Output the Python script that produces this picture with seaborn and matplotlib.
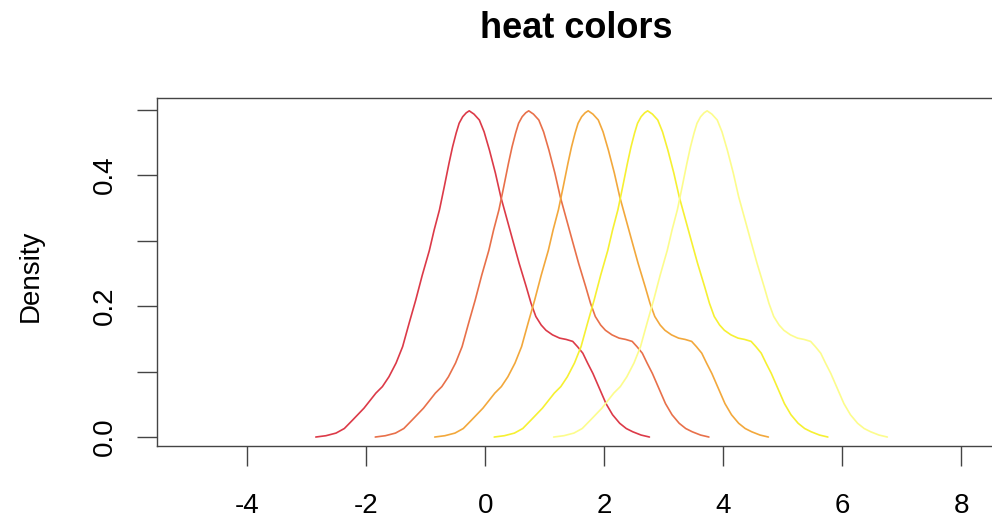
import matplotlib
matplotlib.use("Agg")
import matplotlib.pyplot as plt
import seaborn as sns
import pandas as pd

# Base density curve; the other curves are the same shape shifted by 1
density_x = [-2.85, -2.68, -2.51, -2.37, -2.23, -2.04, -1.84, -1.73, -1.62, -1.50,
             -1.39, -1.28, -1.17, -1.06, -0.94, -0.86, -0.77, -0.69, -0.61, -0.55,
             -0.49, -0.44, -0.38, -0.32, -0.27, -0.19, -0.10, -0.02, 0.07, 0.17,
             0.26, 0.36, 0.46, 0.57, 0.69, 0.77, 0.85, 0.94, 1.02, 1.13,
             1.25, 1.36, 1.47, 1.55, 1.64, 1.72, 1.81, 1.92, 2.03, 2.14,
             2.26, 2.37, 2.48, 2.62, 2.76]
density_y = [0.000, 0.002, 0.006, 0.013, 0.026, 0.044, 0.067, 0.077, 0.092, 0.113,
             0.138, 0.174, 0.209, 0.247, 0.285, 0.316, 0.347, 0.382, 0.418, 0.443,
             0.464, 0.479, 0.489, 0.495, 0.498, 0.493, 0.484, 0.466, 0.438, 0.403,
             0.367, 0.334, 0.301, 0.265, 0.229, 0.204, 0.184, 0.171, 0.163, 0.156,
             0.151, 0.149, 0.146, 0.138, 0.128, 0.113, 0.097, 0.074, 0.051, 0.034,
             0.021, 0.013, 0.008, 0.003, 0.000]
series_names = ["1", "2", "3", "4", "5"]
shifts = [0, 1, 2, 3, 4]
heat_colors = ["#DC3A48", "#E8704A", "#F2A83C", "#F6F032", "#FCFC8C"]

x_ticks = [-4, -2, 0, 2, 4, 6, 8]
y_ticks = [0.0, 0.1, 0.2, 0.3, 0.4, 0.5]
y_labels = ["0.0", "", "0.2", "", "0.4", ""]

rows = []
for name, s in zip(series_names, shifts):
    for xv, yv in zip(density_x, density_y):
        rows.append({"series": name, "x": xv + s, "Density": yv})
df = pd.DataFrame(rows)

sns.set_style("white")
plt.rcParams["font.family"] = ["Liberation Sans", "DejaVu Sans"]

W, H = 992, 518
fig = plt.figure(figsize=(W / 100, H / 100), dpi=100)
ax = fig.add_axes([157 / W, (H - 446) / H, (995 - 157) / W, (446 - 98) / H])

sns.lineplot(data=df, x="x", y="Density", hue="series", palette=heat_colors,
             sort=False, estimator=None, units="series", legend=False,
             linewidth=1.2, ax=ax)

ax.set_xlim(-5.52, 8.52 + 3 / 59.4)
ax.set_ylim(-0.0137, 0.5176)
ax.set_xticks(x_ticks)
ax.set_xticklabels([str(t) for t in x_ticks])
ax.set_yticks(y_ticks)
ax.set_yticklabels(y_labels, rotation=90, va="center")
ax.tick_params(axis="both", which="major", bottom=True, left=True, direction="out",
               length=14.5, width=1.0, color="#444444", labelsize=20, labelcolor="black")
ax.tick_params(axis="x", pad=19)
ax.tick_params(axis="y", pad=14)
for sp in ax.spines.values():
    sp.set_visible(True)
    sp.set_color("#444444")
    sp.set_linewidth(1.0)
ax.set_xlabel("")
ax.set_ylabel("Density", fontsize=20, va="center", color="black")
ax.yaxis.set_label_coords((31 - 157) / (995 - 157), 0.49)
ax.set_title("heat colors", fontsize=26, fontweight="bold", pad=43, color="black")
ax.grid(False)

fig.savefig("out.png", dpi=100, facecolor="white")
